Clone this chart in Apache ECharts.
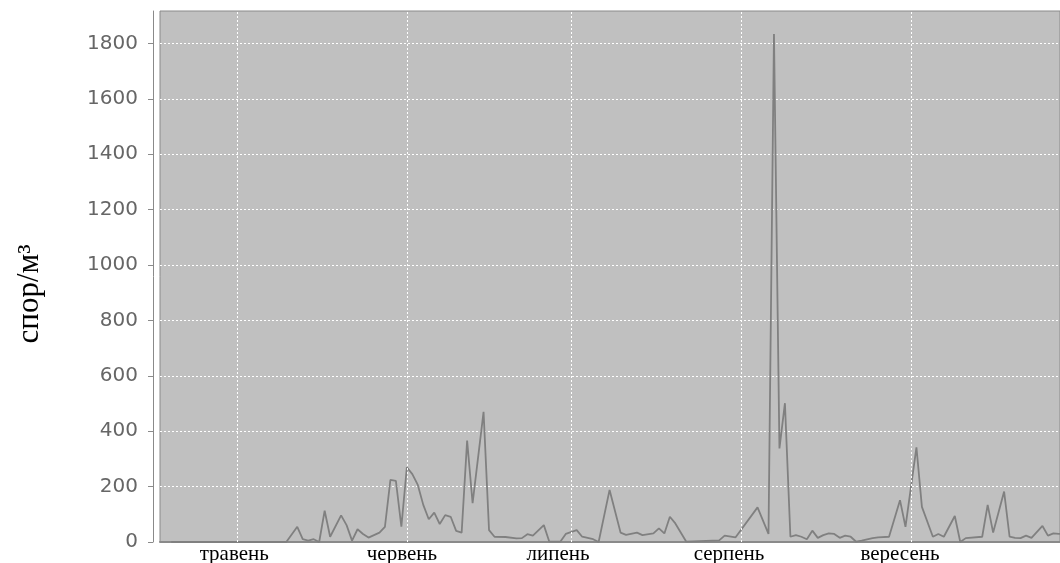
<!DOCTYPE html>
<html>
<head>
<meta charset="utf-8">
<script src="https://cdn.jsdelivr.net/npm/echarts@6/dist/echarts.min.js"></script>
<style>
  html, body { margin: 0; padding: 0; background: #ffffff; }
  #chart { width: 1060px; height: 563px; }
</style>
</head>
<body>
<div id="chart"></div>
<script>
// Daily spore counts; day 0 = 1 May (травень)
const days = [-12, 9, 11, 12, 13, 14, 15, 16, 17, 19, 20, 21, 22, 23, 24, 25, 26, 27, 28, 29,
  30, 31, 32, 33, 34, 35, 36, 37, 38, 39, 40, 41, 42, 43, 45, 46, 47, 49, 51, 52,
  53, 54, 56, 57, 59, 60, 62, 63, 65, 66, 68, 70, 71, 73, 74, 76, 77, 78, 79, 80,
  82, 88, 89, 91, 95, 97, 98, 99, 100, 101, 102, 103, 104, 105, 106, 107, 108, 109, 110, 111,
  112, 113, 114, 116, 117, 119, 121, 122, 124, 125, 127, 128, 129, 131, 132, 133, 136, 137, 138, 140,
  141, 142, 143, 144, 145, 147, 148, 149, 150, 151];
const spores = [0, 0, 55, 10, 5, 10, 0, 113, 19, 96, 61, 5, 46, 29, 16, 25, 34, 55, 224, 221,
  55, 270, 245, 206, 134, 82, 106, 65, 97, 91, 40, 34, 366, 140, 470, 43, 19, 18, 13, 14,
  28, 23, 61, 1, 1, 29, 43, 19, 10, 0, 188, 34, 26, 34, 25, 31, 49, 31, 91, 67,
  1, 6, 23, 17, 125, 29, 1834, 338, 501, 19, 25, 19, 10, 41, 15, 25, 31, 29, 15, 23,
  19, 1, 5, 14, 17, 19, 151, 55, 342, 127, 19, 29, 19, 94, 0, 14, 19, 134, 34, 182,
  19, 15, 14, 23, 15, 58, 23, 31, 29, 30];

// Month starts (1 May, 1 Jun, 1 Jul, 1 Aug, 1 Sep) as day numbers
const monthStarts = [0, 31, 61, 92, 123];
// Month captions under the axis and where they sit (day numbers)
const monthNames = ['травень', 'червень', 'липень', 'серпень', 'вересень'];
const monthLabelDays = [-0.5, 30.1, 58.6, 89.8, 121];

const yTicks = [0, 200, 400, 600, 800, 1000, 1200, 1400, 1600, 1800];
const yMax = 1917;
const yTitle = 'спор/м³';

const chart = echarts.init(document.getElementById('chart'), null, { renderer: 'canvas' });

const gridDash = { color: '#ffffff', width: 1, type: [2, 2] };

chart.setOption({
  animation: false,
  backgroundColor: '#ffffff',
  grid: {
    left: 160, right: 0, top: 11, bottom: 21,
    show: true,
    backgroundColor: '#c0c0c0',
    borderColor: '#8a8a8a',
    borderWidth: 1,
    containLabel: false,
    outerBoundsMode: 'none'
  },
  xAxis: [{
    type: 'value',
    min: -14.05,
    max: 150.2,
    axisLine: { show: true, onZero: false, lineStyle: { color: '#8a8a8a', width: 2 } },
    axisTick: { show: false },
    splitLine: { show: false },
    axisLabel: { show: false }
  }, {
    type: 'value',
    position: 'bottom',
    min: -14.05,
    max: 150.2,
    axisLine: { show: false },
    axisTick: { show: false, customValues: monthLabelDays },
    splitLine: { show: false },
    axisLabel: {
      show: true,
      customValues: monthLabelDays,
      margin: 2,
      fontFamily: 'Liberation Serif',
      fontSize: 21,
      color: '#000000',
      formatter: function (v) {
        const i = monthLabelDays.indexOf(v);
        return i >= 0 ? monthNames[i] : '';
      }
    }
  }],
  yAxis: {
    type: 'value',
    min: 0,
    max: yMax,
    offset: 7,
    axisLine: { show: true, onZero: false, lineStyle: { color: '#8a8a8a', width: 1 } },
    axisTick: { show: true, length: 5, customValues: yTicks, lineStyle: { color: '#8a8a8a' } },
    splitLine: { show: true, lineStyle: gridDash },
    axisLabel: {
      customValues: yTicks,
      margin: 15,
      fontFamily: 'DejaVu Sans',
      fontSize: 20,
      color: '#666666',
      formatter: function (v) { return String(v); }
    }
  },
  graphic: [{
    type: 'text',
    x: 30,
    y: 294,
    rotation: Math.PI / 2,
    style: {
      text: yTitle,
      font: '31px "Liberation Serif"',
      fill: '#000000',
      align: 'center',
      verticalAlign: 'middle'
    }
  }],
  series: [{
    // month-start gridlines, kept beneath the data line
    type: 'line',
    xAxisIndex: 0,
    z: 1,
    data: [],
    silent: true,
    markLine: {
      silent: true,
      symbol: ['none', 'none'],
      label: { show: false },
      lineStyle: gridDash,
      data: monthStarts.map(d => ({ xAxis: d }))
    }
  }, {
    type: 'line',
    xAxisIndex: 0,
    z: 3,
    data: days.map((d, i) => [d, spores[i]]),
    showSymbol: false,
    clip: true,
    lineStyle: { color: '#808080', width: 1.8 }
  }]
});
</script>
</body>
</html>
